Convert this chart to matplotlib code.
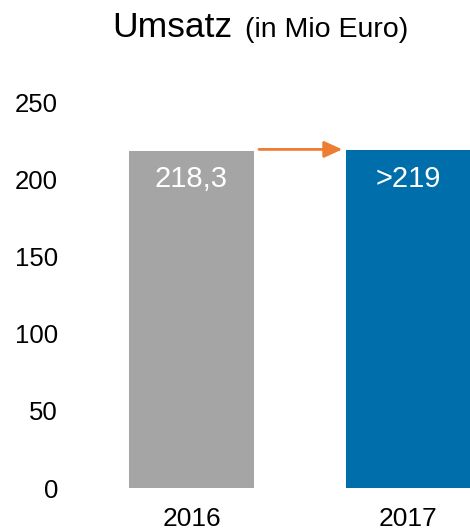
import matplotlib
matplotlib.use("Agg")
import matplotlib.pyplot as plt

plt.rcParams['font.family'] = ['Liberation Sans', 'DejaVu Sans']

# data
years = ["2016", "2017"]
umsatz = [218.3, 219]
bar_labels = ["218,3", ">219"]
bar_colors = ["#A5A5A5", "#006EAA"]
yticks = [0, 50, 100, 150, 200, 250]

W, H = 470, 532
fig = plt.figure(figsize=(W / 100, H / 100), dpi=100)

# axes placed in pixel terms
ax = fig.add_axes([70 / W, (H - 488) / H, (W - 70) / W, (488 - 102) / H])

x = [0, 1]
ax.bar(x, umsatz, width=125 / 217, color=bar_colors)
ax.set_xlim(-121.5 / 217, 1 + 61.5 / 217)
ax.set_ylim(0, 250)

for xi, lab in zip(x, bar_labels):
    ax.text(xi, 200, lab, color="white", fontsize=21, ha="center", va="center")

# orange arrow between the bars
ax.annotate("", xy=(0.695, 219.3), xytext=(0.311, 219.3),
            arrowprops=dict(arrowstyle="-|>,head_length=1.1,head_width=0.5",
                            color="#ED7D31", lw=2, shrinkA=0, shrinkB=0),
            annotation_clip=False)

ax.set_yticks(yticks)
ax.set_yticklabels([str(v) for v in yticks], fontsize=18.5)
ax.set_xticks(x)
ax.set_xticklabels(years, fontsize=19)
ax.tick_params(axis="y", length=0, pad=8.6)
ax.tick_params(axis="x", length=0, pad=14)
for s in ax.spines.values():
    s.set_visible(False)

fig.text(112 / W, 1 - 37 / H, "Umsatz", fontsize=25.5, va="baseline", ha="left")
fig.text(245 / W, 1 - 37 / H, "(in Mio Euro)", fontsize=20.5, va="baseline", ha="left")

fig.savefig("out.png", dpi=100)
